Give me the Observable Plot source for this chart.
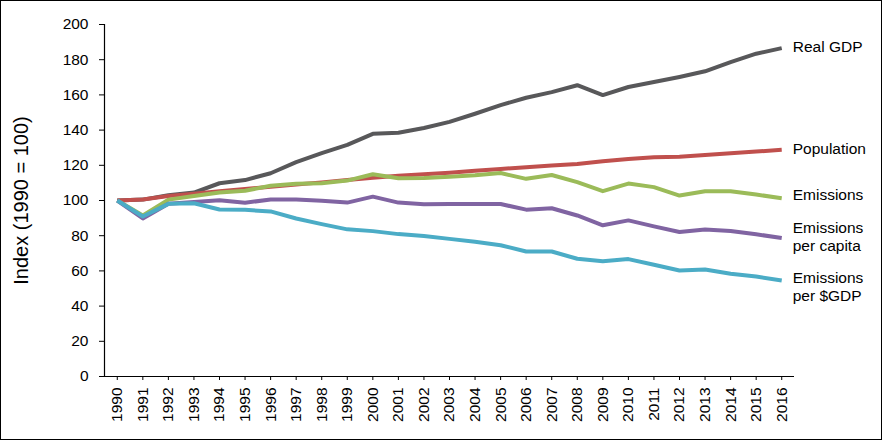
<!DOCTYPE html>
<html>
<head>
<meta charset="utf-8">
<script src="https://cdn.jsdelivr.net/npm/d3@7"></script>
<script src="https://cdn.jsdelivr.net/npm/@observablehq/plot@0.6"></script>
<style>
  html, body { margin: 0; padding: 0; background: #fff; }
  #chart svg { display: block; outline: 1px solid #000; outline-offset: -1px; }
</style>
</head>
<body>
<div id="chart"></div>
<script>
const years = d3.range(1990, 2017);
const seriesNames = ["Real GDP", "Population", "Emissions", "Emissions per capita", "Emissions per $GDP"];
const seriesLabels = ["Real GDP", "Population", "Emissions", "Emissions\nper capita", "Emissions\nper $GDP"];
const seriesColors = ["#58585a", "#c0504d", "#9bbb59", "#8064a2", "#4bacc6"];

const realGDP = [100, 100.5, 103, 104.5, 109.8, 111.6, 115.5, 121.8, 126.9, 131.6, 137.9, 138.5, 141.2, 144.7, 149.3, 154.2, 158.4, 161.6, 165.5, 159.9, 164.5, 167.3, 170.2, 173.4, 178.6, 183.4, 186.6];
const population = [100, 100.6, 102.5, 103.9, 105.2, 106.6, 107.8, 109.1, 110.3, 111.6, 112.9, 114.0, 114.9, 115.8, 116.9, 117.9, 118.9, 119.9, 120.8, 122.3, 123.6, 124.6, 124.8, 125.9, 126.9, 127.8, 128.8];
const emissions = [100, 91.5, 100.5, 102.6, 104.6, 105.5, 108.4, 109.5, 109.8, 111.3, 114.9, 112.6, 112.8, 113.5, 114.3, 115.6, 112.3, 114.5, 110.4, 105.3, 109.6, 107.6, 102.8, 105.3, 105.3, 103.4, 101.3];
const emissionsPerCapita = [100, 89.8, 98.2, 99.1, 100.1, 98.7, 100.6, 100.5, 99.9, 98.8, 102.2, 98.8, 97.9, 98.0, 98.0, 98.0, 94.8, 95.6, 91.5, 85.9, 88.7, 85.3, 82.1, 83.5, 82.7, 80.8, 78.7];
const emissionsPerGDP = [100, 90.9, 98.1, 98.4, 94.9, 94.7, 93.8, 89.8, 86.6, 83.6, 82.6, 80.9, 79.8, 78.2, 76.5, 74.6, 71.0, 71.0, 66.9, 65.5, 66.7, 63.5, 60.2, 60.8, 58.4, 56.8, 54.6];
const seriesValues = [realGDP, population, emissions, emissionsPerCapita, emissionsPerGDP];

const yTicks = d3.range(0, 201, 20);

const data = seriesNames.flatMap((name, i) =>
  years.map((year, j) => ({series: name, year, value: seriesValues[i][j]})));
const lastPoints = seriesNames.map((name, i) => ({
  series: name, label: seriesLabels[i], year: years[years.length - 1],
  value: seriesValues[i][years.length - 1]
}));

const font = "'Liberation Sans', Arial, sans-serif";
const labelStyle = {x: "year", y: "value", text: "label", textAnchor: "start",
  lineAnchor: "middle", dx: 11, fill: "#000", fontSize: 15.5, lineHeight: 1.15};

const chart = Plot.plot({
  width: 882,
  height: 440,
  marginLeft: 104,
  marginRight: 88,
  marginTop: 24,
  marginBottom: 64,
  style: {fontFamily: font, fontSize: "15.5px", color: "#000", background: "#fff"},
  x: {domain: [1989.5, 2016.5]},
  y: {domain: [0, 200]},
  color: {domain: seriesNames, range: seriesColors},
  marks: [
    Plot.axisY({ticks: yTicks, tickSize: 5, tickPadding: 11, fontSize: 15.5,
      label: null}),
    Plot.text(["Index (1990 = 100)"], {frameAnchor: "left", textAnchor: "middle", dx: -83, rotate: -90,
      fontSize: 20, fill: "#000"}),
    Plot.axisX({ticks: years, tickFormat: d => String(d), tickSize: 4, tickPadding: 7,
      tickRotate: -90, fontSize: 15.5, label: null}),
    Plot.ruleY([0], {stroke: "#000", strokeWidth: 1.2}),
    Plot.ruleX([1989.5], {stroke: "#000", strokeWidth: 1.2}),
    Plot.line(data, {x: "year", y: "value", z: "series", stroke: "series",
      strokeWidth: 4, strokeLinejoin: "round", strokeLinecap: "butt"}),
    Plot.text(lastPoints.slice(0, 2), {...labelStyle, dy: -2}),
    Plot.text(lastPoints.slice(2, 3), {...labelStyle, dy: -4}),
    Plot.text(lastPoints.slice(3, 4), {...labelStyle, dy: -2}),
    // the last label sits slightly below its line end, as in the reference
    Plot.text(lastPoints.slice(4), {...labelStyle, dy: 6})
  ]
});

document.getElementById("chart").append(chart);
</script>
</body>
</html>
